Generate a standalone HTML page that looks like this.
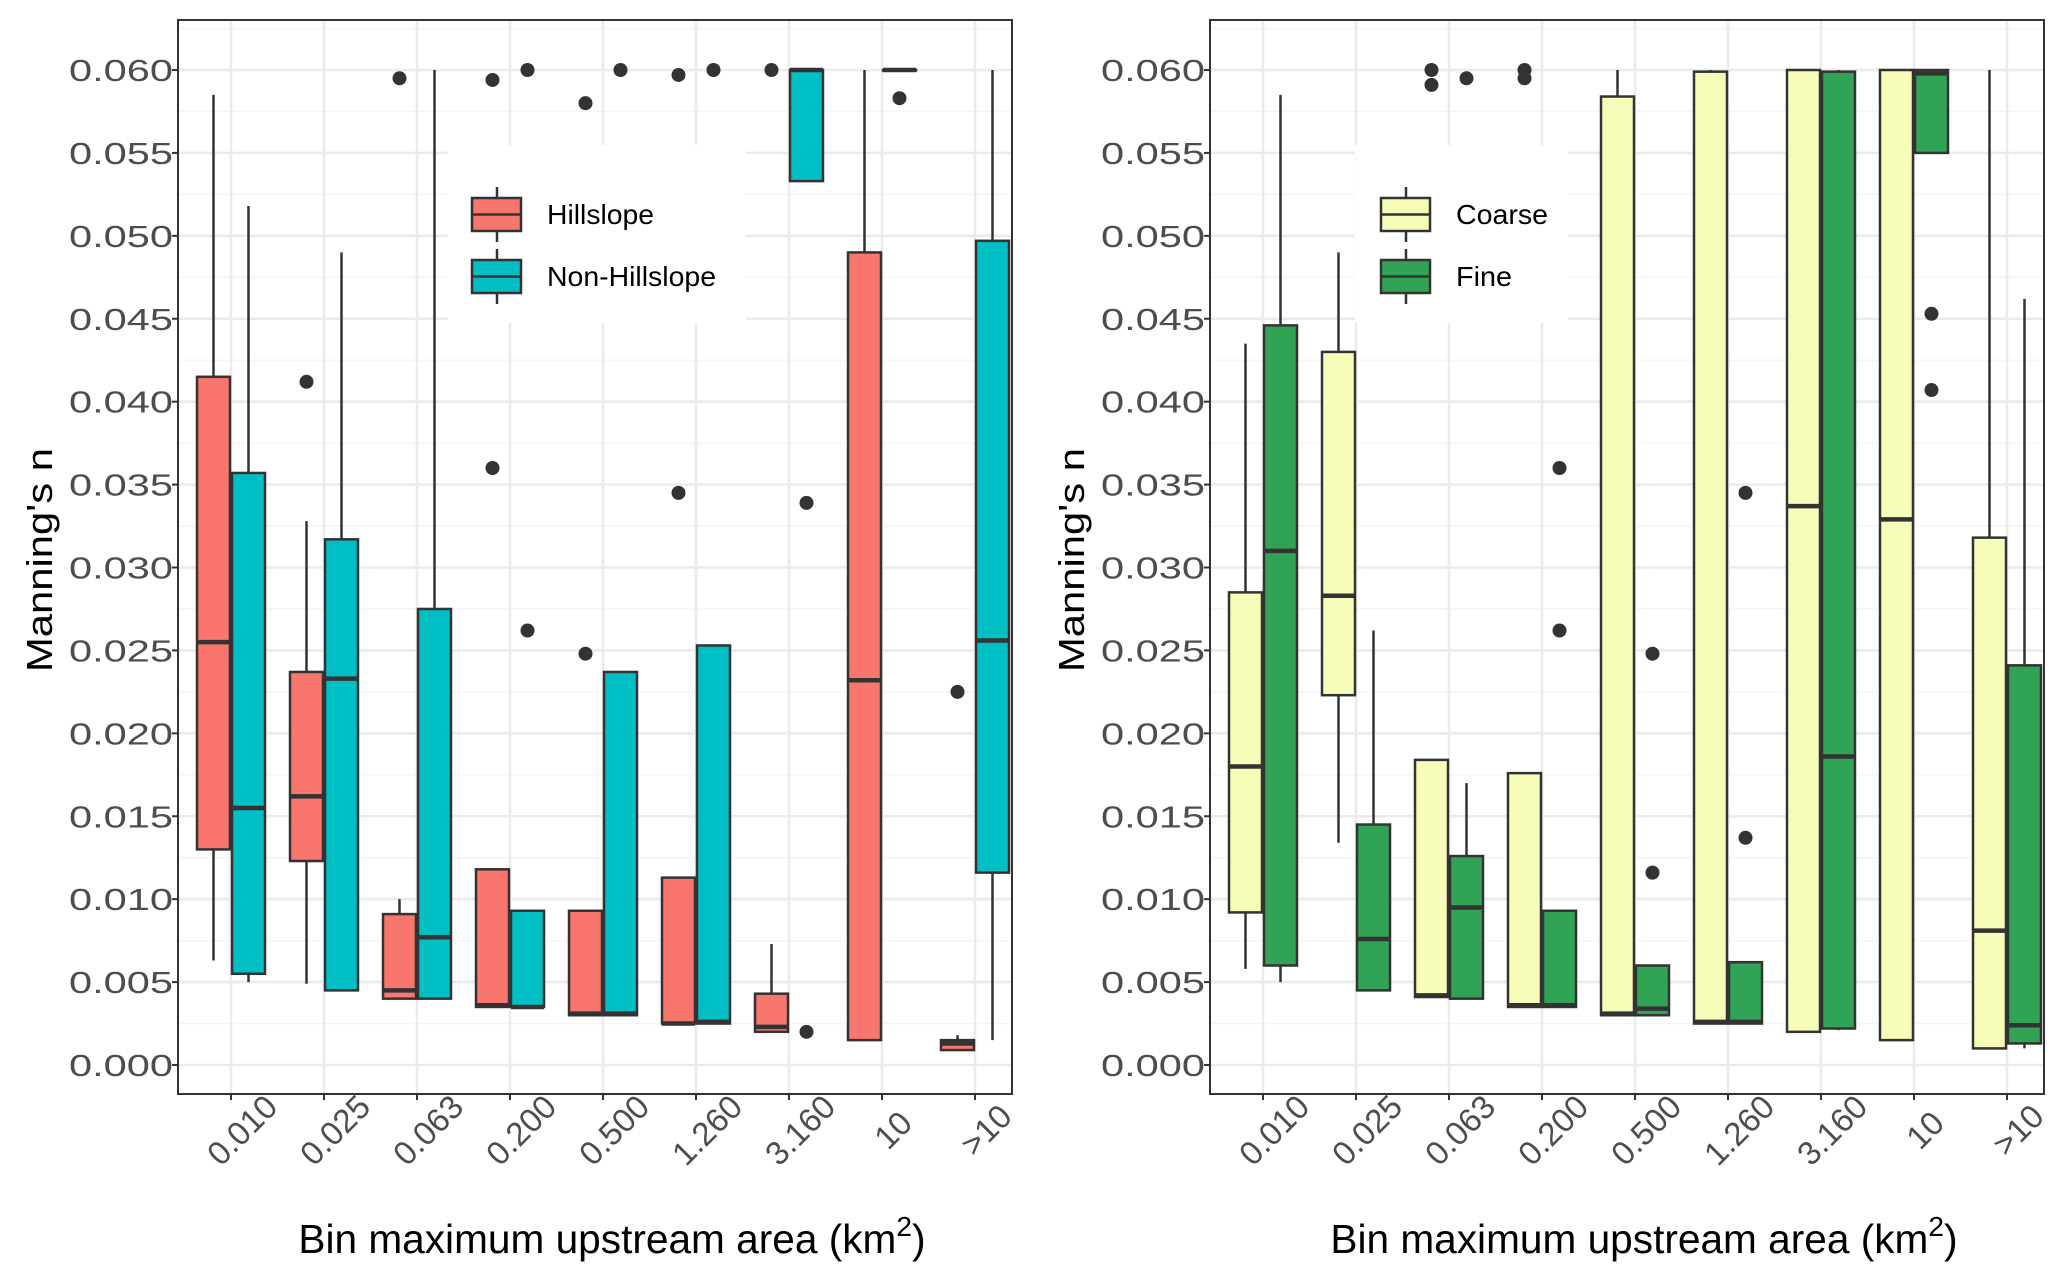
<!DOCTYPE html>
<html><head><meta charset="utf-8"><style>
html,body{margin:0;padding:0;background:#fff;}
svg{display:block;font-family:"Liberation Sans",Arial,sans-serif;}
</style></head><body>
<svg id="chart" width="2067" height="1282" viewBox="0 0 2067 1282" xmlns="http://www.w3.org/2000/svg"></svg>
<script>
// ---- data ----
const categories = ["0.010","0.025","0.063","0.200","0.500","1.260","3.160","10",">10"];
const yTicks = [0,0.005,0.01,0.015,0.02,0.025,0.03,0.035,0.04,0.045,0.05,0.055,0.06];
const yTickLabels = ["0.000","0.005","0.010","0.015","0.020","0.025","0.030","0.035","0.040","0.045","0.050","0.055","0.060"];
// [lowWhisker, q1, median, q3, highWhisker]
const hillslope = [
 [0.0063,0.013,0.0255,0.0415,0.0585],[0.0049,0.0123,0.0162,0.0237,0.0328],[0.004,0.004,0.0045,0.0091,0.010],
 [0.0035,0.0035,0.0036,0.0118,0.0118],[0.003,0.003,0.0031,0.0093,0.0093],[0.0025,0.0025,0.0025,0.0113,0.0113],
 [0.002,0.002,0.0023,0.0043,0.0073],[0.0015,0.0015,0.0232,0.049,0.060],[0.0009,0.0009,0.0013,0.0015,0.0018]];
const hillslopeOut = [[],[0.0412],[0.0595],[0.0594,0.036],[0.058,0.0248],[0.0597,0.0345],[0.060],[],[0.0225]];
const nonHillslope = [
 [0.005,0.0055,0.0155,0.0357,0.0518],[0.0045,0.0045,0.0233,0.0317,0.049],[0.004,0.004,0.0077,0.0275,0.060],
 [0.0035,0.0035,0.0035,0.0093,0.0093],[0.003,0.003,0.0031,0.0237,0.0237],[0.0025,0.0025,0.0026,0.0253,0.0253],
 [0.0533,0.0533,0.060,0.060,0.060],[0.060,0.060,0.060,0.060,0.060],[0.0015,0.0116,0.0256,0.0497,0.060]];
const nonHillslopeOut = [[],[],[],[0.060,0.0262],[0.060],[0.060],[0.0339,0.002],[0.0583],[]];
const coarse = [
 [0.0058,0.0092,0.018,0.0285,0.0435],[0.0134,0.0223,0.0283,0.043,0.049],[0.0041,0.0041,0.0042,0.0184,0.0184],
 [0.0035,0.0035,0.0036,0.0176,0.0176],[0.003,0.003,0.0031,0.0584,0.060],[0.0025,0.0025,0.0026,0.0599,0.060],
 [0.002,0.002,0.0337,0.060,0.060],[0.0015,0.0015,0.0329,0.060,0.060],[0.001,0.001,0.0081,0.0318,0.060]];
const coarseOut = [[],[],[0.060,0.0591],[0.060,0.0595],[],[],[],[],[]];
const fine = [
 [0.005,0.006,0.031,0.0446,0.0585],[0.0045,0.0045,0.0076,0.0145,0.0262],[0.004,0.004,0.0095,0.0126,0.017],
 [0.0035,0.0035,0.0036,0.0093,0.0093],[0.003,0.003,0.0034,0.006,0.006],[0.0025,0.0025,0.0026,0.0062,0.0062],
 [0.0021,0.0022,0.0186,0.0599,0.060],[0.055,0.055,0.0598,0.060,0.060],[0.001,0.0013,0.0024,0.0241,0.0462]];
const fineOut = [[],[],[0.0595],[0.036,0.0262],[0.0248,0.0116],[0.0345,0.0137],[],[0.0453,0.0407],[]];

const NS="http://www.w3.org/2000/svg";
const svg=document.getElementById('chart');
function mk(tag,attrs,parent){const e=document.createElementNS(NS,tag);for(const k in attrs)e.setAttribute(k,attrs[k]);(parent||svg).appendChild(e);return e;}

function panel(ox, s1, o1, s2, o2, c1, c2, n1, n2, legendBox, key, textLens) {
  const L=178+ox, R=1012+ox, T=20, B=1094;
  const g=mk('g',{});
  
  
  const y=v=>1065-(v/0.06)*(1065-70);
  const x=i=>231+ox+i*93;
  mk('rect',{x:L,y:T,width:R-L,height:B-T,fill:'#fff'},g);
  for(let i=-1;i<yTicks.length;i++){const v=(i<0?-0.005:yTicks[i])+0.0025;const yy=y(v);if(yy>T&&yy<B)mk('line',{x1:L,x2:R,y1:yy,y2:yy,stroke:'#f4f4f4','stroke-width':1.3},g);}
  for(let i=0;i<yTicks.length;i++){const yy=y(yTicks[i]);mk('line',{x1:L,x2:R,y1:yy,y2:yy,stroke:'#ebebeb','stroke-width':2.6},g);}
  for(let i=0;i<categories.length;i++){mk('line',{x1:x(i),x2:x(i),y1:T,y2:B,stroke:'#ebebeb','stroke-width':2.6},g);}
  const lg=mk('g',{},g);
  
  
  mk('rect',{x:legendBox[0]+ox,y:145,width:legendBox[1],height:178,fill:'#fff'},lg);
  const names=[n1,n2],cols=[c1,c2];
  for(let k=0;k<2;k++){
    const ky=198+k*62, kx=legendBox[2]+ox;
    const ent=mk('g',{},lg);
    
    
    mk('line',{x1:kx+25,x2:kx+25,y1:ky-11,y2:ky+44,stroke:'#333','stroke-width':2.5},ent);
    mk('rect',{x:kx,y:ky,width:49,height:33,fill:cols[k],stroke:'#333','stroke-width':2.5},ent);
    mk('line',{x1:kx,x2:kx+49,y1:ky+16.5,y2:ky+16.5,stroke:'#333','stroke-width':2.5},ent);
    const t=mk('text',{x:kx+75,y:ky+26,'font-size':28,fill:'#000',textLength:textLens[k],lengthAdjust:'spacingAndGlyphs'},ent);t.textContent=names[k];
  }
  function drawBox(stats,outs,i,dx,col,nm){
    const bg=mk('g',{},g);
    
    
    const cx=x(i)+dx, w=33;
    mk('line',{x1:cx,x2:cx,y1:y(stats[0]),y2:y(stats[4]),stroke:'#333','stroke-width':2.5},bg);
    mk('rect',{x:cx-w/2,y:y(stats[3]),width:w,height:Math.max(0.5,y(stats[1])-y(stats[3])),fill:col,stroke:'#333','stroke-width':2.5},bg);
    mk('line',{x1:cx-w/2,x2:cx+w/2,y1:y(stats[2]),y2:y(stats[2]),stroke:'#333','stroke-width':4.5},bg);
    for(const o of outs){mk('circle',{cx:cx,cy:y(o),r:7,fill:'#333'},bg);}
  }
  for(let i=0;i<categories.length;i++){drawBox(s1[i],o1[i],i,-17.5,c1,n1.toLowerCase());drawBox(s2[i],o2[i],i,17.5,c2,n2.toLowerCase());}
  mk('rect',{x:L,y:T,width:R-L,height:B-T,fill:'none',stroke:'#333','stroke-width':2},g);
  for(let i=0;i<yTicks.length;i++){const yy=y(yTicks[i]);
    mk('line',{x1:L-6,x2:L,y1:yy,y2:yy,stroke:'#333','stroke-width':2},g);
    const t=mk('text',{x:173+ox,y:yy+11,'text-anchor':'end','font-size':31,fill:'#4d4d4d',textLength:104,lengthAdjust:'spacingAndGlyphs'},g);
    
    
    t.textContent=yTickLabels[i];}
  for(let i=0;i<categories.length;i++){
    mk('line',{x1:x(i),x2:x(i),y1:B,y2:B+6,stroke:'#333','stroke-width':2},g);
    const tx=x(i)+11, ty=1130;
    const t=mk('text',{x:tx,y:ty,'text-anchor':'middle','dominant-baseline':'central','font-size':33,fill:'#4d4d4d',transform:`rotate(-45 ${tx} ${ty})`},g);
    
    
    t.textContent=categories[i];}
  const yt=mk('text',{x:0,y:0,'text-anchor':'middle','font-size':36,fill:'#000',textLength:224,lengthAdjust:'spacingAndGlyphs',transform:`translate(${52+ox},560) rotate(-90)`},g);
  
  
  yt.textContent="Manning's n";
  const xt=mk('text',{x:612+ox,y:1253,'text-anchor':'middle','font-size':41,fill:'#000'},g);
  
  
  const a=mk('tspan',{textLength:598,lengthAdjust:'spacingAndGlyphs'},xt);a.textContent='Bin maximum upstream area (km';
  const b=mk('tspan',{dy:-17,'font-size':28},xt);b.textContent='2';
  const c=mk('tspan',{dy:17},xt);c.textContent=')';
}
panel(0,hillslope,hillslopeOut,nonHillslope,nonHillslopeOut,'#F8766D','#00BFC4','Hillslope','Non-Hillslope',[448,298,472],'hillslope',[107,169]);
panel(1032,coarse,coarseOut,fine,fineOut,'#F7FCB9','#31A354','Coarse','Fine',[323,213,349],'texture',[92,56]);
</script>
</body></html>
